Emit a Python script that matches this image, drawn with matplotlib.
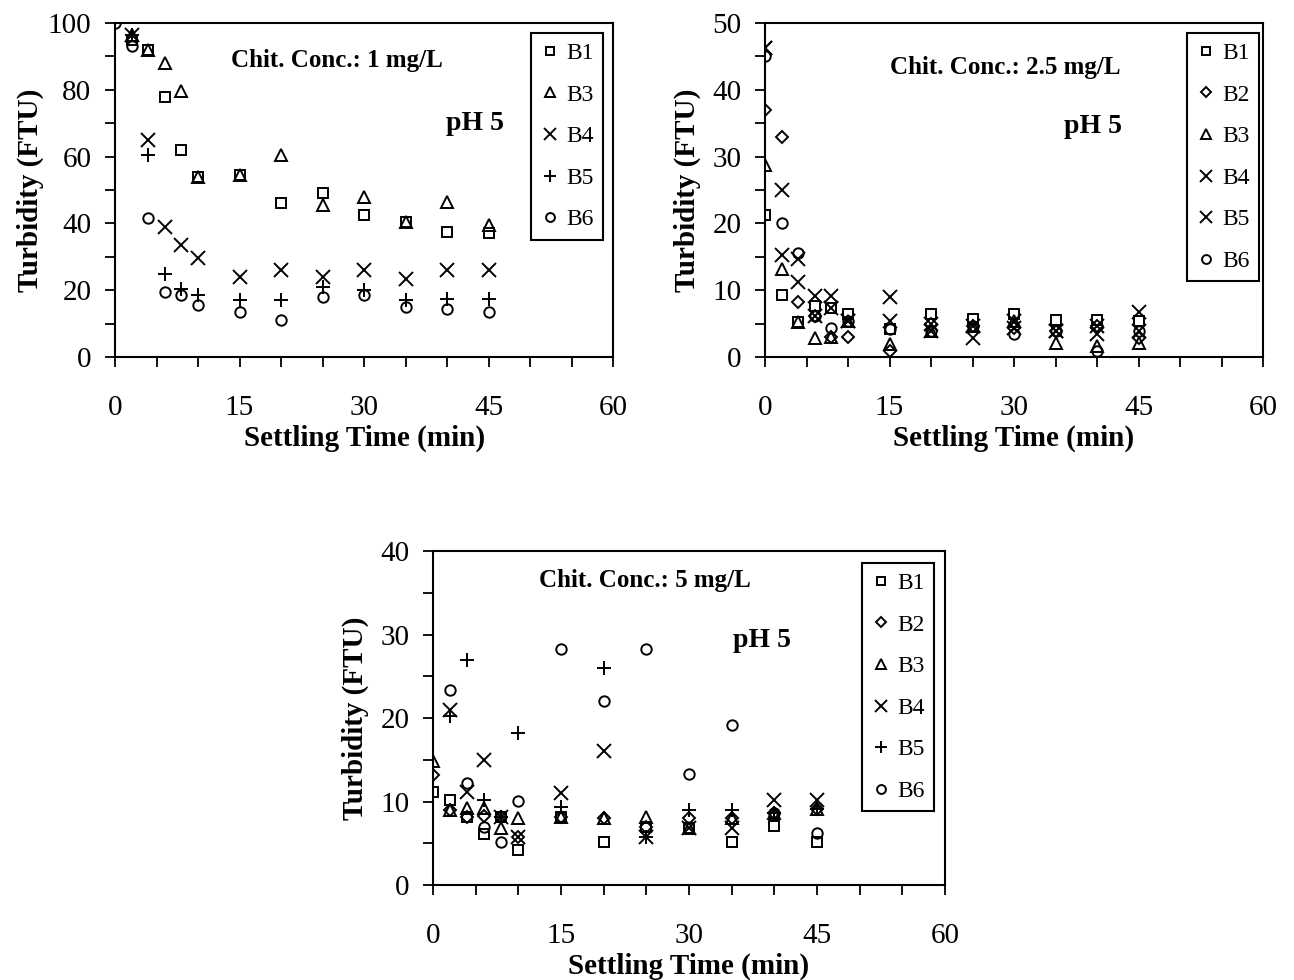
import numpy as np
import matplotlib
matplotlib.use("Agg")
import matplotlib.pyplot as plt
from matplotlib.ticker import MultipleLocator

plt.rcParams['font.family'] = ['Liberation Serif', 'DejaVu Serif']

nan = np.nan
t = [0, 2, 4, 6, 8, 10, 15, 20, 25, 30, 35, 40, 45]

# Chit. Conc. 1 mg/L
c1_b1 = [nan, 95, 92, 78, 62, 54, 54.5, 46, 49, 42.5, 40.5, 37.5, 37]
c1_b3 = [nan, 96.5, 92, 88, 79.5, 54, 54.5, 60.5, 45.5, 48, 40.5, 46.5, 39.5]
c1_b4 = [nan, 96.5, 65, 39, 33.5, 29.5, 24, 26, 24, 26, 23.5, 26, 26]
c1_b5 = [nan, 96.5, 60.5, 25, 20.5, 18.5, 17, 17, 21, 20, 17, 17.5, 17.5]
c1_b6 = [100, 93, 41.5, 19.5, 18.5, 15.5, 13.5, 11, 18, 18.5, 15, 14.5, 13.5]

# Chit. Conc. 2.5 mg/L
c2_b1 = [21.3, 9.3, 5.2, 7.6, 7.3, 6.4, 4.2, 6.4, 5.7, 6.4, 5.6, 5.6, 5.4]
c2_b2 = [37, 33, 8.2, 6.2, 3, 3, 0.9, 4.9, 4.7, 4.4, 3.9, 4.7, 2.9]
c2_b3 = [28.7, 13.2, 5.2, 2.9, 3, 5.4, 2, 3.9, 4.7, 5.4, 2.1, 1.6, 2.1]
c2_b4 = [46.2, 25, 14.6, 9.2, 9.2, 5.4, 9, 4.9, 2.9, 5.4, 3.9, 3.4, 6.7]
c2_b5 = [46.2, 15.2, 11.3, 6.2, 7.3, 5.4, 5.4, 3.9, 4.7, 4.4, 3.9, 4.7, 3.9]
c2_b6 = [45, 20, 15.6, 6.2, 4.3, 5.4, 4.2, 3.9, 4.7, 3.4, 3.9, 0.9, 3.9]

# Chit. Conc. 5 mg/L
c3_b1 = [11.1, 10.2, 8.1, 6.1, 8.1, 4.2, 8.2, 5.1, 6.9, 6.8, 5.2, 7.1, 5.2]
c3_b2 = [13.2, 9, 8.1, 8.3, 8.1, 5.8, 8.2, 8, 6.9, 8, 8, 8.6, 9.1]
c3_b3 = [14.9, 9, 9.2, 9.2, 6.8, 8, 8.2, 8, 8.1, 6.8, 8, 8.6, 9.1]
c3_b4 = [nan, 21, 11.2, 15, 8.1, 5.8, 11, 16, 5.7, 6.8, 6.8, 10.2, 10.2]
c3_b5 = [nan, 20.2, 27, 10.2, 8.1, 18.2, 9.4, 26, 5.7, 9, 9, 8.6, 9.1]
c3_b6 = [nan, 23.3, 12.2, 7, 5.1, 10.1, 28.3, 22.1, 28.3, 13.3, 19.2, 8.6, 6.2]

msizes = {'s': 7.5, 'D': 6.5, '^': 8, 'x': 10, '+': 10.5, 'o': 7.5}


def panel(ax, series, ymax, ystep, conc, conc_pos, ph_pos, leg_anchor, ypad):
    for label, marker, y in series:
        ax.plot(t, y, linestyle='none', marker=marker, ms=msizes[marker],
                mfc='none', mec='black', mew=1.4, label=label)
    ax.set_xlim(0, 60)
    ax.set_ylim(0, ymax)
    ax.xaxis.set_major_locator(MultipleLocator(15))
    ax.xaxis.set_minor_locator(MultipleLocator(5))
    ax.yaxis.set_major_locator(MultipleLocator(ystep))
    ax.yaxis.set_minor_locator(MultipleLocator(ystep / 2))
    ax.tick_params(which='both', direction='out', length=7, width=1.3,
                   top=False, right=False)
    ax.tick_params(axis='x', which='major', labelsize=21, pad=20)
    ax.tick_params(axis='y', which='major', labelsize=21, pad=10)
    for sp in ax.spines.values():
        sp.set_linewidth(1.5)
    ax.set_xlabel('Settling Time (min)', fontsize=21, fontweight='bold', labelpad=3)
    ax.set_ylabel('Turbidity (FTU)', fontsize=21, fontweight='bold', labelpad=ypad)
    ax.text(conc_pos[0], conc_pos[1], 'Chit. Conc.: ' + conc, transform=ax.transAxes,
            ha='center', va='center', fontsize=18, fontweight='bold')
    ax.text(ph_pos[0], ph_pos[1], 'pH 5', transform=ax.transAxes,
            ha='center', va='center', fontsize=20, fontweight='bold')
    leg = ax.legend(loc='upper right', bbox_to_anchor=leg_anchor, borderaxespad=0,
                    fontsize=17, markerscale=0.85, handlelength=0.8, handletextpad=0.3,
                    labelspacing=0.85, borderpad=0.4, fancybox=False, framealpha=1)
    leg.get_frame().set_edgecolor('black')
    leg.get_frame().set_linewidth(1.5)


fig = plt.figure(figsize=(12.94, 9.8), dpi=100)

ax1 = fig.add_axes([0.0889, 0.6357, 0.3849, 0.3408])
panel(ax1, [('B1', 's', c1_b1), ('B3', '^', c1_b3), ('B4', 'x', c1_b4),
            ('B5', '+', c1_b5), ('B6', 'o', c1_b6)],
      100, 20, '1 mg/L', (0.446, 0.888), (0.723, 0.70), (0.98, 0.97), 3)

ax2 = fig.add_axes([0.5912, 0.6357, 0.3849, 0.3408])
panel(ax2, [('B1', 's', c2_b1), ('B2', 'D', c2_b2), ('B3', '^', c2_b3),
            ('B4', 'x', c2_b4), ('B5', 'x', c2_b5), ('B6', 'o', c2_b6)],
      50, 10, '2.5 mg/L', (0.482, 0.866), (0.659, 0.69), (0.992, 0.97), 8)

ax3 = fig.add_axes([0.3346, 0.0969, 0.3957, 0.3408])
panel(ax3, [('B1', 's', c3_b1), ('B2', 'D', c3_b2), ('B3', '^', c3_b3),
            ('B4', 'x', c3_b4), ('B5', '+', c3_b5), ('B6', 'o', c3_b6)],
      40, 10, '5 mg/L', (0.414, 0.913), (0.643, 0.733), (0.979, 0.964), 8)

fig.savefig('out.png', dpi=100, facecolor='white')
